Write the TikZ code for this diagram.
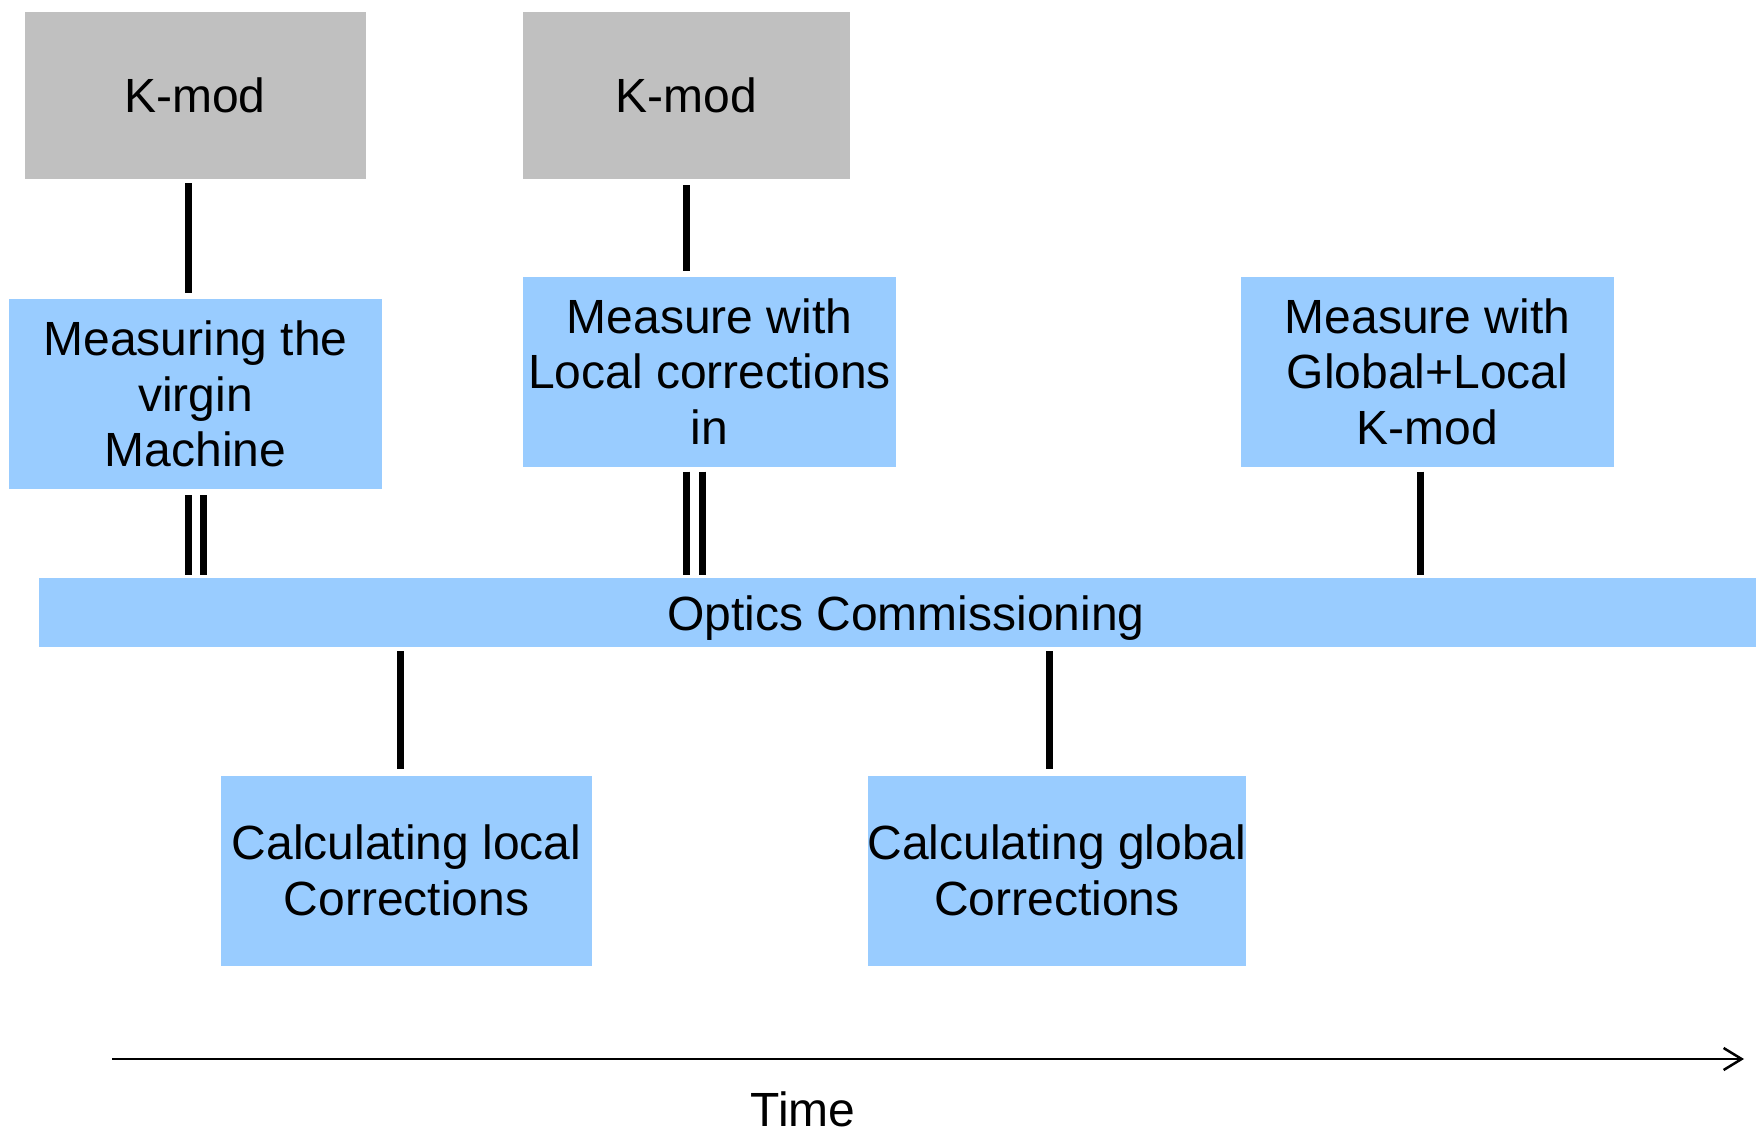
\documentclass[tikz,border=0pt]{standalone}
\usepackage{fontspec}
\setmainfont{Liberation Sans}
\usetikzlibrary{arrows.meta}
\definecolor{boxblue}{HTML}{99CCFF}
\definecolor{boxgray}{HTML}{C0C0C0}
\begin{document}
\begin{tikzpicture}[x=1pt,y=-1pt,
  every node/.style={font=\fontsize{48}{55.5}\selectfont, align=center, inner sep=0pt},
  graybox/.style={fill=boxgray, minimum height=167pt},
  bluebox/.style={fill=boxblue, minimum width=373pt, minimum height=190pt},
  conn/.style={line width=7pt},
  timeline/.style={line width=2.5pt, -{Straight Barb[length=18pt,width=22pt,line width=2.5pt]}}]
\useasboundingbox (0,0) rectangle (1756,1127);
% top
\node[graybox, minimum width=341pt] (k1) at (195,95.5) {K-mod};
\node[graybox, minimum width=327pt] (k2) at (686.5,95.5) {K-mod};
\node[bluebox] (m1) at (195.5,394) {Measuring the\\virgin\\Machine};
\node[bluebox] (m2) at (709.5,371.5) {Measure with\\Local corrections\\in};
\node[bluebox] (m3) at (1427.5,371.5) {Measure with\\Global+Local\\K-mod};
% bar
\node[fill=boxblue, minimum width=1734pt, minimum height=69pt] (oc) at (906,612.5) {};
\node (octext) at (906,618) {Optics Commissioning};
% bottom
\node[bluebox, minimum width=371pt] (c1) at (406.5,870.5) {Calculating local\\Corrections};
\node[bluebox, minimum width=371pt] (c2) at (1057,870.5) {Calculating global\\Corrections};
% connectors
\draw[conn, shorten <=4pt, shorten >=6pt] ([xshift=-7pt]k1.south) -- ([xshift=-7pt]k1.south |- m1.north);
\draw[conn, shorten <=6pt, shorten >=5pt] (k2.south) -- (k2.south |- m2.north);
\draw[conn, shorten <=6pt, shorten >=3pt] ([xshift=-7.5pt]m1.south) -- ([xshift=-7.5pt]m1.south |- oc.north);
\draw[conn, shorten <=6pt, shorten >=3pt] ([xshift=7.5pt]m1.south) -- ([xshift=7.5pt]m1.south |- oc.north);
\draw[conn, shorten <=5pt, shorten >=3pt] ([xshift=-23.5pt]m2.south) -- ([xshift=-23.5pt]m2.south |- oc.north);
\draw[conn, shorten <=5pt, shorten >=3pt] ([xshift=-7.5pt]m2.south) -- ([xshift=-7.5pt]m2.south |- oc.north);
\draw[conn, shorten <=5pt, shorten >=3pt] ([xshift=-7.5pt]m3.south) -- ([xshift=-7.5pt]m3.south |- oc.north);
\draw[conn, shorten <=4pt, shorten >=6pt] ([xshift=-6.5pt]c1.north |- oc.south) -- ([xshift=-6.5pt]c1.north);
\draw[conn, shorten <=4pt, shorten >=6pt] ([xshift=-8pt]c2.north |- oc.south) -- ([xshift=-8pt]c2.north);
% time axis
\coordinate (ta) at (112,1059);
\coordinate (tb) at (1744,1059);
\draw[timeline] (ta) -- (tb);
\node (time) at (803,1109) {Time};
\end{tikzpicture}
\end{document}
